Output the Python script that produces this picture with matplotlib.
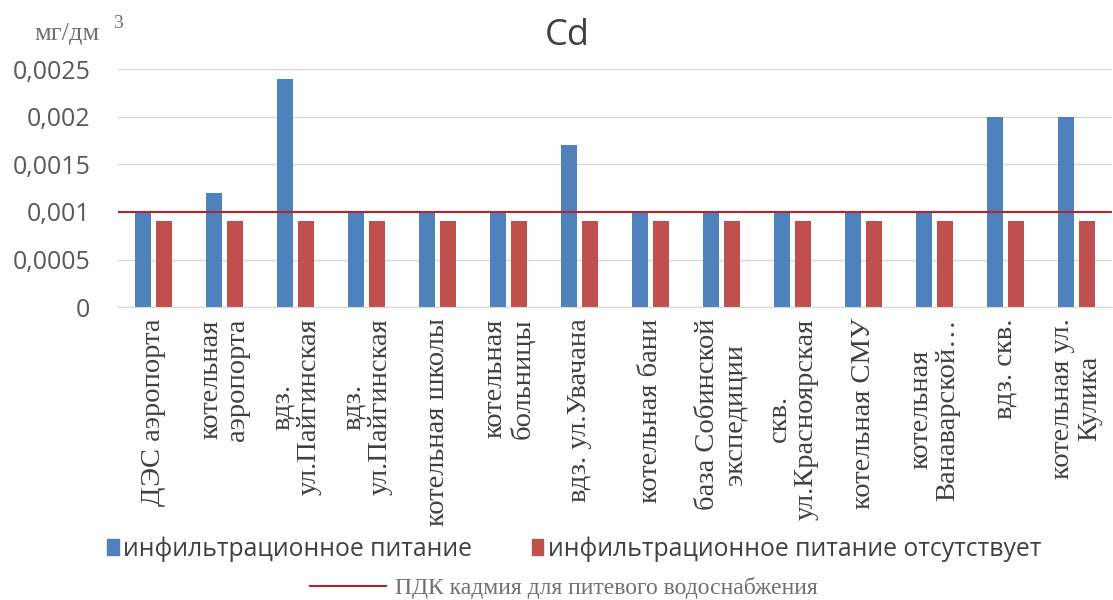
import matplotlib.pyplot as plt
import numpy as np
from matplotlib.ticker import FuncFormatter
from matplotlib.lines import Line2D
from matplotlib.patches import Patch

labels = ['ДЭС аэропорта', 'котельная\nаэропорта', 'вдз.\nул.Пайгинская',
          'вдз.\nул.Пайгинская', 'котельная школы', 'котельная\nбольницы',
          'вдз. ул.Увачана', 'котельная бани', 'база Собинской\nэкспедиции',
          'скв.\nул.Красноярская', 'котельная СМУ', 'котельная\nВанаварской…',
          'вдз. скв.', 'котельная ул.\nКулика']
infiltr = [0.001, 0.0012, 0.0024, 0.001, 0.001, 0.001, 0.0017,
           0.001, 0.001, 0.001, 0.001, 0.001, 0.002, 0.002]
no_infiltr = [0.0009] * 14
pdk = 0.001
yticks = [0, 0.0005, 0.001, 0.0015, 0.002, 0.0025]

blue = '#4F81BD'
red = '#C0504D'
line_col = '#B0282D'

fig = plt.figure(figsize=(11.13, 6.0), dpi=100)
ax = fig.add_axes([0.106, 0.488, 0.893, 0.397])

x = np.arange(len(labels))
w = 0.23
ax.bar(x - 0.145, infiltr, width=w, color=blue, zorder=2)
ax.bar(x + 0.145, no_infiltr, width=w, color=red, zorder=2)
ax.axhline(pdk, color=line_col, lw=1.5, zorder=3)

ax.set_xlim(-0.5, len(labels) - 0.5)
ax.set_ylim(0, 0.0025)
ax.set_yticks(yticks)
ax.yaxis.set_major_formatter(FuncFormatter(lambda v, p: '{:g}'.format(v).replace('.', ',')))
ax.grid(axis='y', color='#D9D9D9', lw=1, zorder=0)
for s in ['top', 'right', 'left']:
    ax.spines[s].set_visible(False)
ax.spines['bottom'].set_color('#D9D9D9')
ax.tick_params(axis='both', length=0)
ax.tick_params(axis='y', labelsize=18, labelcolor='#595959', pad=20)
for t in ax.get_yticklabels():
    t.set_family('Open Sans')

ax.set_xticks(x)
ax.set_xticklabels(labels, rotation=90, ha='center', va='top', multialignment='center',
                   family='Liberation Serif', fontsize=20.5, color='#404040',
                   linespacing=1.1)
ax.tick_params(axis='x', pad=8)

fig.text(0.51, 0.925, 'Cd', family='Open Sans', fontsize=26, color='#404040',
         ha='center', va='baseline')
fig.text(0.031, 0.933, 'мг/дм', family='Liberation Serif', fontsize=19, color='#707070',
         va='baseline')
fig.text(0.102, 0.953, '3', family='Liberation Serif', fontsize=14, color='#707070',
         va='baseline')

h1 = [Patch(color=blue), Patch(color=red)]
leg1 = fig.legend(h1, ['инфильтрационное питание', 'инфильтрационное питание отсутствует'],
                  loc='center', bbox_to_anchor=(0.516, 0.085), ncol=2, frameon=False,
                  prop={'family': 'Open Sans', 'size': 17.8}, handlelength=0.45,
                  handleheight=0.6, handletextpad=0.2, columnspacing=2.4)
for t in leg1.get_texts():
    t.set_color('#404040')
h2 = [Line2D([0], [0], color=line_col, lw=1.5)]
leg2 = fig.legend(h2, ['ПДК кадмия для питевого водоснабжения'], loc='center',
                  bbox_to_anchor=(0.507, 0.02), frameon=False,
                  prop={'family': 'Liberation Serif', 'size': 17}, handlelength=3.2,
                  handletextpad=0.4)
for t in leg2.get_texts():
    t.set_color('#707070')

fig.savefig('out.png', dpi=100)
